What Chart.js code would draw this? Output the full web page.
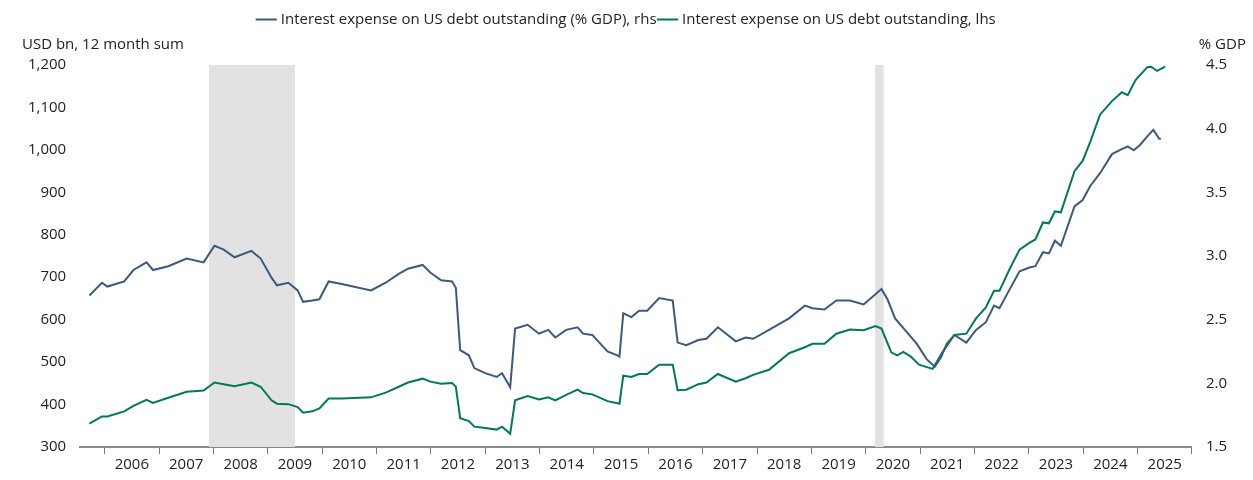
<!DOCTYPE html>
<html>
<head>
<meta charset="utf-8">
<script src="https://cdn.jsdelivr.net/npm/chart.js@4.4.1/dist/chart.umd.min.js"></script>
<style>
  html, body { margin: 0; padding: 0; background: #fff; }
  #wrap { width: 1253px; height: 480px; }
</style>
</head>
<body>
<div id="wrap"><canvas id="chart"></canvas></div>
<script>
// Decimal-year dates and values
const greenDates = [2005.72, 2005.95, 2006.05, 2006.36, 2006.53, 2006.77, 2006.89, 2007.17, 2007.51, 2007.82, 2008.02, 2008.19, 2008.39, 2008.7, 2008.87, 2009.07, 2009.17, 2009.38, 2009.55, 2009.65, 2009.82, 2009.95, 2010.12, 2010.36, 2010.9, 2011.17, 2011.41, 2011.58, 2011.85, 2011.99, 2012.19, 2012.39, 2012.46, 2012.54, 2012.7, 2012.8, 2013.0, 2013.21, 2013.31, 2013.46, 2013.55, 2013.78, 2013.99, 2014.16, 2014.29, 2014.49, 2014.7, 2014.8, 2014.97, 2015.25, 2015.43, 2015.47, 2015.54, 2015.69, 2015.83, 2015.98, 2016.2, 2016.45, 2016.54, 2016.7, 2016.92, 2017.07, 2017.28, 2017.61, 2017.79, 2017.93, 2018.22, 2018.59, 2018.88, 2019.02, 2019.24, 2019.46, 2019.71, 2019.96, 2020.18, 2020.29, 2020.47, 2020.58, 2020.69, 2020.83, 2020.98, 2021.23, 2021.41, 2021.63, 2021.85, 2022.03, 2022.21, 2022.36, 2022.46, 2022.65, 2022.83, 2023.01, 2023.12, 2023.26, 2023.37, 2023.48, 2023.59, 2023.84, 2023.99, 2024.13, 2024.31, 2024.53, 2024.71, 2024.82, 2024.96, 2025.18, 2025.25, 2025.36, 2025.51];
const greenValues = [355, 372, 372, 384, 397, 411, 404, 416, 430, 433, 452, 448, 443, 452, 442, 410, 402, 401, 394, 381, 384, 391, 414, 414, 417, 428, 442, 452, 461, 454, 449, 451, 442, 368, 361, 348, 345, 341, 348, 331, 410, 420, 412, 417, 410, 423, 435, 427, 424, 408, 403, 402, 468, 465, 472, 472, 494, 494, 434, 435, 448, 452, 472, 454, 462, 470, 482, 521, 535, 543, 543, 567, 577, 575, 585, 579, 523, 516, 524, 513, 494, 484, 523, 564, 567, 603, 629, 668, 668, 720, 765, 781, 789, 829, 827, 855, 853, 950, 974, 1019, 1083, 1115, 1136, 1129, 1164, 1195, 1196, 1186, 1196];

const blueDates = [2005.72, 2005.95, 2006.05, 2006.36, 2006.53, 2006.77, 2006.89, 2007.17, 2007.51, 2007.82, 2008.02, 2008.19, 2008.39, 2008.7, 2008.87, 2009.07, 2009.17, 2009.38, 2009.55, 2009.65, 2009.82, 2009.95, 2010.12, 2010.36, 2010.9, 2011.17, 2011.41, 2011.58, 2011.85, 2011.99, 2012.19, 2012.39, 2012.46, 2012.54, 2012.7, 2012.8, 2013.0, 2013.21, 2013.31, 2013.46, 2013.55, 2013.78, 2013.99, 2014.16, 2014.29, 2014.49, 2014.7, 2014.8, 2014.97, 2015.25, 2015.43, 2015.47, 2015.54, 2015.69, 2015.83, 2015.98, 2016.2, 2016.45, 2016.54, 2016.7, 2016.92, 2017.07, 2017.28, 2017.61, 2017.79, 2017.93, 2018.22, 2018.59, 2018.88, 2019.02, 2019.24, 2019.46, 2019.71, 2019.96, 2020.18, 2020.29, 2020.4, 2020.54, 2020.76, 2020.94, 2021.12, 2021.27, 2021.38, 2021.49, 2021.63, 2021.85, 2022.03, 2022.21, 2022.36, 2022.46, 2022.65, 2022.83, 2023.01, 2023.12, 2023.26, 2023.37, 2023.48, 2023.59, 2023.84, 2023.99, 2024.13, 2024.31, 2024.53, 2024.71, 2024.82, 2024.93, 2025.04, 2025.18, 2025.29, 2025.4, 2025.43];
const blueValues = [2.69, 2.79, 2.76, 2.80, 2.89, 2.95, 2.89, 2.92, 2.98, 2.95, 3.08, 3.05, 2.99, 3.04, 2.98, 2.83, 2.77, 2.79, 2.73, 2.64, 2.65, 2.66, 2.80, 2.78, 2.73, 2.79, 2.86, 2.90, 2.93, 2.87, 2.81, 2.80, 2.75, 2.26, 2.22, 2.12, 2.08, 2.05, 2.08, 1.97, 2.43, 2.46, 2.39, 2.42, 2.36, 2.42, 2.44, 2.39, 2.38, 2.25, 2.22, 2.21, 2.55, 2.52, 2.57, 2.57, 2.67, 2.65, 2.32, 2.30, 2.34, 2.35, 2.44, 2.33, 2.36, 2.35, 2.42, 2.51, 2.61, 2.59, 2.58, 2.65, 2.65, 2.62, 2.70, 2.74, 2.66, 2.51, 2.40, 2.31, 2.19, 2.13, 2.20, 2.31, 2.38, 2.32, 2.42, 2.48, 2.61, 2.59, 2.74, 2.88, 2.91, 2.92, 3.03, 3.02, 3.12, 3.08, 3.39, 3.44, 3.55, 3.65, 3.80, 3.84, 3.86, 3.83, 3.87, 3.94, 3.99, 3.92, 3.92];

const recessionStarts = [2007.92, 2020.17];
const recessionEnds = [2009.5, 2020.33];
const yearLabels = [2006, 2007, 2008, 2009, 2010, 2011, 2012, 2013, 2014, 2015, 2016, 2017, 2018, 2019, 2020, 2021, 2022, 2023, 2024, 2025];

const BLUE = '#3b5a7e';
const GREEN = '#00785a';
const FONT = '"Open Sans", "DejaVu Sans", sans-serif';

function toPoints(xs, ys) {
    return xs.map((x, i) => ({ x: x, y: ys[i] }));
}

// Grey bands for recessions, drawn under the lines
const recessionPlugin = {
    id: 'recessions',
    beforeDatasetsDraw(chart) {
        const { ctx, chartArea, scales } = chart;
        ctx.save();
        ctx.fillStyle = '#e1e2e1';
        recessionStarts.forEach((s, i) => {
            const x0 = scales.x.getPixelForValue(s);
            const x1 = scales.x.getPixelForValue(recessionEnds[i]);
            ctx.fillRect(x0, chartArea.top, x1 - x0, chartArea.bottom - chartArea.top);
        });
        ctx.restore();
    }
};

// Axis unit captions above the plot
const captionPlugin = {
    id: 'captions',
    afterDraw(chart) {
        const { ctx, chartArea } = chart;
        ctx.save();
        ctx.fillStyle = '#222';
        ctx.font = '15px ' + FONT;
        ctx.textBaseline = 'middle';
        ctx.textAlign = 'left';
        ctx.fillText('USD bn, 12 month sum', 22, 45);
        ctx.textAlign = 'right';
        ctx.fillText('% GDP', chartArea.right + 54, 45);
        ctx.restore();
    }
};

Chart.register({
    id: 'legendSpacing',
    beforeInit(chart) {
        const fit = chart.legend.fit;
        chart.legend.fit = function () {
            fit.bind(chart.legend)();
            this.height += 28;
        };
    }
});

new Chart(document.getElementById('chart'), {
    type: 'line',
    data: {
        datasets: [{
            label: 'Interest expense on US debt outstanding (% GDP), rhs',
            data: toPoints(blueDates, blueValues),
            borderColor: BLUE,
            backgroundColor: BLUE,
            borderWidth: 2,
            pointRadius: 0,
            tension: 0,
            yAxisID: 'y1'
        }, {
            label: 'Interest expense on US debt outstanding, lhs',
            data: toPoints(greenDates, greenValues),
            borderColor: GREEN,
            backgroundColor: GREEN,
            borderWidth: 2,
            pointRadius: 0,
            tension: 0,
            yAxisID: 'y'
        }]
    },
    options: {
        responsive: true,
        maintainAspectRatio: false,
        animation: false,
        layout: { padding: { left: 22, right: 20, top: 8, bottom: 4 } },
        plugins: {
            legend: {
                labels: {
                    usePointStyle: true,
                    pointStyle: 'line',
                    boxWidth: 14,
                    color: '#222',
                    padding: 4,
                    font: { family: FONT, size: 15 }
                }
            },
            tooltip: { enabled: false }
        },
        scales: {
            x: {
                type: 'linear',
                min: 2005.55,
                max: 2026,
                afterBuildTicks(axis) {
                    const ticks = [];
                    yearLabels.forEach(y => {
                        ticks.push({ value: y });
                        ticks.push({ value: y + 0.5 });
                    });
                    ticks.push({ value: 2026 });
                    axis.ticks = ticks;
                },
                ticks: {
                    autoSkip: false,
                    maxRotation: 0,
                    color: '#222',
                    font: { family: FONT, size: 15 },
                    padding: 2,
                    callback: v => (v % 1 !== 0 ? String(Math.floor(v)) : '')
                },
                grid: {
                    drawOnChartArea: false,
                    tickLength: 7,
                    color: ctx => (ctx.tick && ctx.tick.value % 1 === 0 ? '#777' : 'rgba(0,0,0,0)')
                },
                border: { color: '#888', width: 2 }
            },
            y: {
                position: 'left',
                min: 300,
                max: 1200,
                ticks: {
                    stepSize: 100,
                    color: '#222',
                    font: { family: FONT, size: 15 },
                    padding: 6
                },
                grid: { display: false },
                border: { display: false }
            },
            y1: {
                position: 'right',
                min: 1.5,
                max: 4.5,
                ticks: {
                    stepSize: 0.5,
                    color: '#222',
                    font: { family: FONT, size: 15 },
                    padding: 6,
                    callback: v => v.toFixed(1)
                },
                grid: { display: false },
                border: { display: false }
            }
        }
    },
    plugins: [recessionPlugin, captionPlugin]
});
</script>
</body>
</html>
